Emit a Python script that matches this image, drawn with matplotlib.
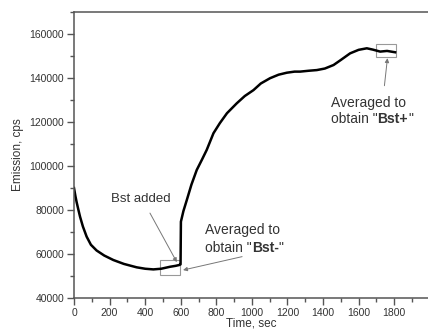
import matplotlib.pyplot as plt
from matplotlib.patches import Rectangle
from matplotlib.ticker import MultipleLocator

plt.rcParams['font.family'] = ['Liberation Sans', 'DejaVu Sans']

# --------------------
# Data
# --------------------
time_sec = [0, 8, 15, 25, 34, 50, 71, 95, 127, 170, 221, 280, 352, 400, 446,
            490, 540, 570, 592, 599,
            601, 615, 634, 660, 690, 720, 746, 784, 820, 860, 915, 960, 1009,
            1050, 1102, 1150, 1196, 1240, 1271, 1320, 1365, 1410, 1459, 1500,
            1552, 1600, 1646, 1680, 1721, 1760, 1805]
emission = [90000, 86300, 83500, 80000, 76950, 72500, 67900, 64200, 61600,
            59300, 57270, 55500, 53950, 53300, 53000,
            53300, 54200, 54600, 55000, 55300,
            74700, 79500, 84500, 91500, 98200, 103000, 107300, 114900, 119500,
            124000, 128500, 131800, 134500,
            137500, 139900, 141500, 142400, 142900, 142900, 143300, 143600,
            144300, 145900, 148200,
            151200, 152800, 153500, 152900, 152000, 152300, 151700]

# averaging windows (time range, emission range)
box_minus = (484, 596, 50450, 57270)
box_plus = (1699, 1811, 149400, 155450)


def obtain_label(ax, x, y, name):
    # 'obtain "<bold name>"' built from three text pieces
    t1 = ax.text(x, y, 'obtain "', fontsize=10, color='#333333',
                 ha='left', va='center')
    t2 = ax.annotate(name, xy=(1, 0.5), xycoords=t1, fontsize=10,
                     fontweight='bold', color='#333333', ha='left', va='center')
    ax.annotate('"', xy=(1, 0.5), xycoords=t2, fontsize=10, color='#333333',
                ha='left', va='center')


# --------------------
# Plot
# --------------------
fig = plt.figure(figsize=(4.28, 3.32), dpi=100)
ax = fig.add_axes([74 / 428, 34 / 332, 354 / 428, 286 / 332])

ax.plot(time_sec, emission, color='black', lw=1.8, solid_joinstyle='round')

for t0, t1, v0, v1 in (box_minus, box_plus):
    ax.add_patch(Rectangle((t0, v0), t1 - t0, v1 - v0, fill=False,
                           edgecolor='#999999', lw=0.8))

ax.set_xlim(0, 1990)
ax.set_ylim(40000, 170000)
ax.xaxis.set_major_locator(MultipleLocator(200))
ax.xaxis.set_minor_locator(MultipleLocator(100))
ax.yaxis.set_major_locator(MultipleLocator(20000))
ax.yaxis.set_minor_locator(MultipleLocator(10000))

for side in ('left', 'bottom', 'top'):
    ax.spines[side].set_color('#555555')
    ax.spines[side].set_linewidth(1.1)
ax.spines['right'].set_visible(False)

ax.tick_params(which='major', length=5, width=1, color='#555555',
               labelsize=7.5, labelcolor='#333333', pad=2)
ax.tick_params(which='minor', length=3, width=1, color='#555555')

ax.set_xlabel('Time, sec', fontsize=8.5, color='#333333', labelpad=0)
ax.set_ylabel('Emission, cps', fontsize=8.5, color='#333333', labelpad=4)

arrow = dict(arrowstyle='-|>', color='#777777', lw=0.7, mutation_scale=6,
             shrinkA=0, shrinkB=0)

ax.text(374, 85000, 'Bst added', fontsize=9.5, color='#333333',
        ha='center', va='center')
ax.annotate('', xy=(578, 56300), xytext=(427, 78600), arrowprops=arrow)

ax.text(737, 70900, 'Averaged to', fontsize=10, color='#333333',
        ha='left', va='center')
obtain_label(ax, 737, 62700, 'Bst-')
ax.annotate('', xy=(613, 52700), xytext=(945, 58800), arrowprops=arrow)

ax.text(1444, 128800, 'Averaged to', fontsize=10, color='#333333',
        ha='left', va='center')
obtain_label(ax, 1444, 121300, 'Bst+')
ax.annotate('', xy=(1762, 149000), xytext=(1745, 136500), arrowprops=arrow)

fig.savefig('out.png', dpi=100)
